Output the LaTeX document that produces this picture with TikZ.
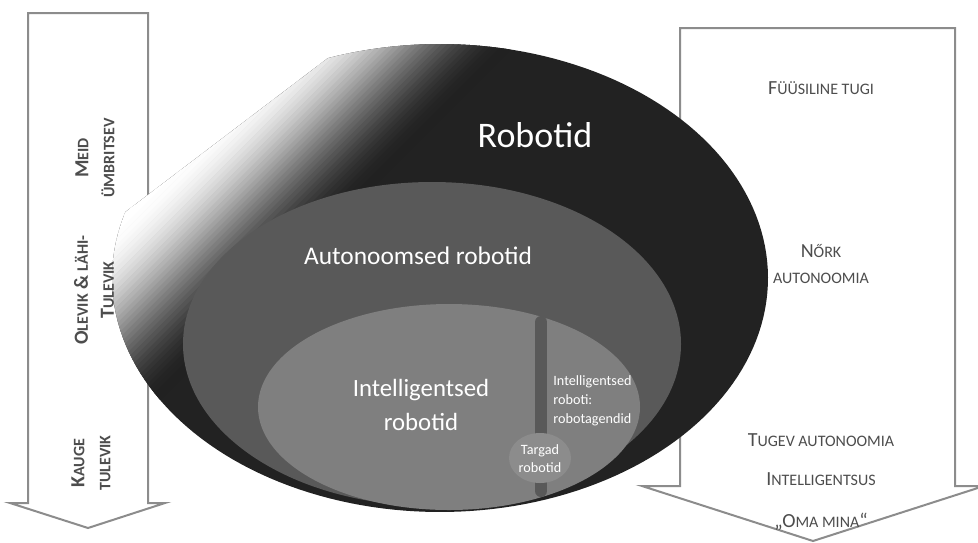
\documentclass[tikz,border=0pt]{standalone}
\usepackage{fontspec}
\setmainfont{Carlito}
\usepackage{tikz}

\definecolor{robotdark}{HTML}{222222}
\definecolor{autogray}{HTML}{595959}
\definecolor{intgray}{HTML}{7F7F7F}
\definecolor{targgray}{HTML}{8C8C8C}
\definecolor{arrowgray}{HTML}{8C8C8C}
\definecolor{labelgray}{HTML}{4D4D4D}

\newcommand{\smr}[1]{{\fontsize{8}{13}\selectfont #1}}

\tikzset{
  timearrow/.style={draw=arrowgray, line width=1pt, fill=white, line join=miter},
  sidelabel/.style={text=labelgray, font=\fontsize{10}{13}\selectfont, align=center, inner sep=0pt},
  leftlabel/.style={sidelabel, font=\bfseries\fontsize{10}{13}\selectfont, rotate=90},
  inlabel/.style={text=white, align=center, inner sep=0pt}
}

\begin{document}
\begin{tikzpicture}[x=0.5pt, y=-0.5pt]
  \useasboundingbox (0,0) rectangle (978,542);
  \clip (0,0) rectangle (978,542);

  \draw[timearrow] (28,13) -- (148,13) -- (148,503) -- (165,503) -- (88,528) -- (10,503) -- (28,503) -- cycle;
  \draw[timearrow] (680,28) -- (955,28) -- (955,486) -- (984,486) -- (813,541) -- (642,486) -- (680,486) -- cycle;

  \begin{scope}
    \clip plot[domain=110:-196.4, samples=160] ({440+328*cos(\x)}, {278-234*sin(\x)}) -- cycle;
    \fill[robotdark] (0,0) rectangle (978,542);
    \begin{scope}[shift={(121,212)}, rotate=45]
      \foreach \i in {0,...,39}{
        \pgfmathsetmacro\u{max(0,min(1,(4*\i-5)/150))}
        \pgfmathsetmacro\p{87*\u*\u*(3-2*\u)}
        \fill[black!\p] (-300,4*\i) rectangle (400,4*\i+4.6);
      }
    \end{scope}
  \end{scope}

  \fill[autogray] (432,344) ellipse [x radius=249, y radius=162];
  \fill[intgray] (449,407) ellipse [x radius=191, y radius=103];
  \draw[autogray, line width=6pt, line cap=round] (541,322) -- (541,491);
  \fill[targgray] (540,458) ellipse [x radius=31, y radius=25];

  \node[inlabel, font=\fontsize{18}{22}\selectfont] (robotid) at (535,135) {Robotid};
  \node[inlabel, font=\fontsize{12.7}{16}\selectfont] (autonoomsed) at (418,256) {Autonoomsed robotid};
  \node[inlabel, font=\fontsize{12.4}{17}\selectfont] (intelligentsed) at (421,405) {Intelligentsed\\robotid};
  \node[inlabel, align=left, anchor=west, font=\fontsize{7.1}{9.5}\selectfont] (agendid) at (553,401) {Intelligentsed\\roboti:\\robotagendid};
  \node[inlabel, font=\fontsize{7.1}{9}\selectfont] (targad) at (540,459) {Targad\\robotid};

  \node[leftlabel] (meid) at (95,158) {M\smr{EID}\\\smr{ÜMBRITSEV}};
  \node[leftlabel] (olevik) at (94,290) {O\smr{LEVIK} \& \smr{LÄHI-}\\T\smr{ULEVIK}};
  \node[leftlabel] (kauge) at (91,463) {K\smr{AUGE}\\\smr{TULEVIK}};

  \node[sidelabel] (fyysiline) at (821,88) {F\smr{ÜÜSILINE TUGI}};
  \node[sidelabel] (nork) at (821,264) {N\smr{ŐRK}\\\smr{AUTONOOMIA}};
  \node[sidelabel] (tugev) at (821,440) {T\smr{UGEV AUTONOOMIA}};
  \node[sidelabel] (intelligentsus) at (821,479) {I\smr{NTELLIGENTSUS}};
  \node[sidelabel] (omamina) at (821,522) {„O\smr{MA MINA}“};
\end{tikzpicture}
\end{document}
